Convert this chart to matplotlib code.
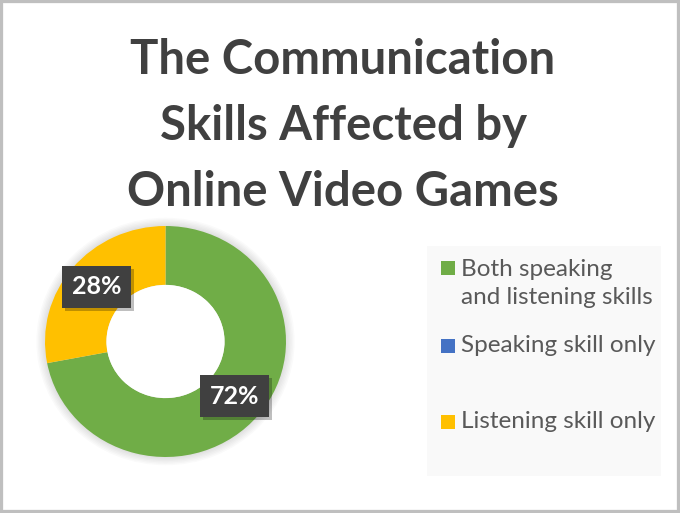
import matplotlib
matplotlib.use("Agg")
import matplotlib.pyplot as plt
import matplotlib.patches as mpatches
from matplotlib.transforms import offset_copy
import numpy as np

# ---------- Data ----------
categories = ["Both speaking\nand listening skills", "Speaking skill only", "Listening skill only"]
shares = [72, 0, 28]
colors = ["#70ad47", "#4472c4", "#ffc000"]
title = "The Communication\nSkills Affected by\nOnline Video Games"

W, H = 680, 513
fig = plt.figure(figsize=(W / 100, H / 100), dpi=100)
fig.patch.set_facecolor("white")

def fx(px):
    return px / W

def fy(py):
    return 1 - py / H

# outer border of the chart area
fig.patches.append(mpatches.Rectangle((0, 0), 1, 1, transform=fig.transFigure,
                                      facecolor="none", edgecolor="#bfbfbf", linewidth=4.5))

# ---------- Title ----------
fig.text(fx(343), fy(126), title, ha="center", va="center", fontsize=34,
         fontweight="bold", color="#404040", family="Lato", linespacing=1.6)

# ---------- Donut ----------
ax = fig.add_axes([fx(45), fy(457), fx(241), 231 / H])
# soft shadow round the ring
for k in range(6):
    ax.add_patch(mpatches.Circle((0, 0), 1.0 + 0.012 * (k + 1), facecolor="#000000",
                                 alpha=0.018, edgecolor="none", zorder=0))
wedges, _ = ax.pie(shares, colors=colors, startangle=90, counterclock=False,
                   radius=1.0, wedgeprops=dict(width=0.51, edgecolor="none"))
ax.add_patch(mpatches.Circle((0, 0), 0.49, facecolor="white", edgecolor="none", zorder=1))
ax.set_aspect("auto")
ax.set_xlim(-1.08, 1.08)
ax.set_ylim(-1.08, 1.08)
ax.set_position([fx(45 - 0.04 * 241), fy(457 + 0.04 * 231), fx(241 * 1.08), 231 * 1.08 / H])
ax.axis("off")

# data labels at the middle of each ring segment
start = 90.0
total = sum(shares)
mid_r = (1 + 0.49) / 2
for val in shares:
    sweep = 360.0 * val / total
    if val > 0:
        ang = np.deg2rad(start - sweep / 2)
        x, y = mid_r * np.cos(ang), mid_r * np.sin(ang)
        shadow_tr = offset_copy(ax.transData, fig=fig, x=3, y=-3, units="dots")
        ax.text(x, y, f"{val}%", transform=shadow_tr, ha="center", va="center",
                fontsize=18, fontweight="bold", family="Lato", color="#000000", alpha=0.0,
                bbox=dict(boxstyle="square,pad=0.38", facecolor="#000000", alpha=0.25,
                          edgecolor="none"), zorder=4)
        ax.text(x, y, f"{val}%", ha="center", va="center", fontsize=18,
                fontweight="bold", family="Lato", color="white",
                bbox=dict(boxstyle="square,pad=0.38", facecolor="#404040",
                          edgecolor="none"), zorder=5)
    start -= sweep

# ---------- Legend ----------
fig.patches.append(mpatches.Rectangle((fx(427), fy(476)), fx(661 - 427), (476 - 246) / H,
                                      transform=fig.transFigure, facecolor="#f9f9f9",
                                      edgecolor="none"))
legend_y = [283.5, 346, 422]
line_gap = 31
for lab, col, yy in zip(categories, colors, legend_y):
    n_lines = lab.count("\n") + 1
    my = yy - (n_lines - 1) * line_gap / 2
    fig.patches.append(mpatches.Rectangle((fx(441), fy(my + 7)), fx(14), 14 / H,
                                          transform=fig.transFigure, facecolor=col,
                                          edgecolor="none"))
    fig.text(fx(461), fy(yy), lab, ha="left", va="center",
             fontsize=17.5, color="#595959", family="Lato", linespacing=1.45)

fig.savefig("out.png", dpi=100)
